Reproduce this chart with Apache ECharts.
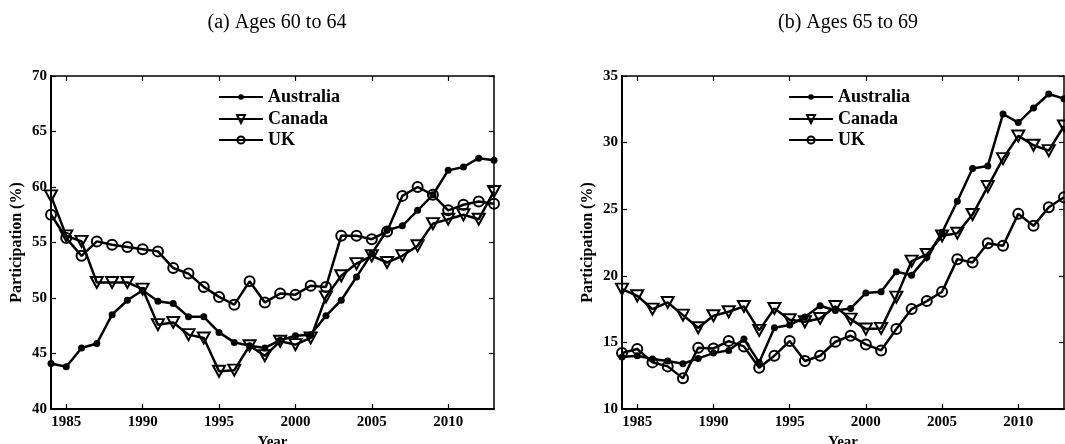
<!DOCTYPE html>
<html>
<head>
<meta charset="utf-8">
<script src="https://cdn.jsdelivr.net/npm/echarts@6/dist/echarts.min.js"></script>
<style>
  html, body { margin: 0; padding: 0; background: #fff; }
  #chart { width: 1065px; height: 444px; }
</style>
</head>
<body>
<div id="chart"></div>
<script>
// Survey years shared by both panels
const years = ['1984','1985','1986','1987','1988','1989','1990','1991','1992','1993',
               '1994','1995','1996','1997','1998','1999','2000','2001','2002','2003',
               '2004','2005','2006','2007','2008','2009','2010','2011','2012','2013'];

// Panel (a): participation rate, ages 60 to 64 (%)
const aus6064 = [44.1,43.8,45.5,45.9,48.5,49.8,50.7,49.7,49.5,48.3,48.3,46.9,46.0,45.7,45.5,
                 46.2,46.6,46.7,48.4,49.8,51.9,54.0,56.1,56.5,57.9,59.3,61.5,61.8,62.6,62.4];
const can6064 = [59.2,55.6,55.1,51.4,51.4,51.4,50.8,47.6,47.8,46.7,46.4,43.4,43.5,45.7,44.8,
                 46.1,45.8,46.4,50.1,52.0,53.1,53.8,53.2,53.8,54.7,56.7,57.1,57.5,57.1,59.6];
const uk6064  = [57.5,55.4,53.8,55.1,54.8,54.6,54.4,54.2,52.7,52.2,51.0,50.1,49.4,51.5,49.6,
                 50.4,50.3,51.1,51.0,55.6,55.6,55.3,56.0,59.2,60.0,59.3,57.9,58.4,58.7,58.5];

// Panel (b): participation rate, ages 65 to 69 (%)
const aus6569 = [13.9,14.0,13.75,13.6,13.4,13.8,14.2,14.4,15.25,13.5,16.1,16.3,16.9,17.75,17.4,
                 17.55,18.7,18.8,20.3,20.05,21.4,23.25,25.6,28.05,28.25,32.15,31.5,32.6,33.65,33.3];
const can6569 = [19.0,18.5,17.5,18.0,17.05,16.1,17.0,17.3,17.7,15.9,17.55,16.7,16.55,16.8,17.7,
                 16.75,16.0,16.05,18.4,21.1,21.6,23.0,23.2,24.6,26.7,28.8,30.5,29.8,29.4,31.25];
const uk6569  = [14.2,14.5,13.5,13.2,12.3,14.6,14.55,15.1,14.7,13.1,14.0,15.1,13.6,14.0,15.05,
                 15.5,14.85,14.4,16.0,17.5,18.1,18.8,21.25,21.0,22.45,22.25,24.65,23.75,25.15,25.9];

const panelTitles = ['(a) Ages 60 to 64', '(b) Ages 65 to 69'];
const yRanges = [[40, 70], [10, 35]];
const seriesNames = ['Australia', 'Canada', 'UK'];

const FONT = '"Liberation Serif", "Times New Roman", serif';
// fixed plot boxes; labels may run to the canvas edge
const grids = [
  { left: 51, right: 571, top: 76, bottom: 35, outerBoundsMode: 'none', containLabel: false },
  { left: 622, right: 1, top: 76, bottom: 35, outerBoundsMode: 'none', containLabel: false }
];

const every5 = (i) => Number(years[i]) % 5 === 0;

// marker styles per country
const markerStyles = {
  Australia: { symbol: 'circle', symbolSize: 7, itemStyle: { color: '#000' }, legendH: 7 },
  Canada: { symbol: 'triangle', symbolRotate: 180, symbolSize: [12, 11],
            itemStyle: { color: 'rgba(0,0,0,0)', borderColor: '#000', borderWidth: 2 }, legendH: 10 },
  UK: { symbol: 'circle', symbolSize: 10,
        itemStyle: { color: 'rgba(0,0,0,0)', borderColor: '#000', borderWidth: 2 }, legendH: 9 }
};

const xAxes = [], yAxes = [], series = [], legends = [], titles = [];

[0, 1].forEach((p) => {
  const tickStyle = { show: true, inside: true, length: 5, interval: every5, lineStyle: { color: '#000', width: 1.2 } };
  xAxes.push({
    type: 'category', gridIndex: p, data: years, boundaryGap: false, position: 'bottom',
    axisLine: { show: true, onZero: false, lineStyle: { color: '#000', width: 2 } },
    axisTick: tickStyle,
    axisLabel: { interval: every5, margin: 6, color: '#000', fontFamily: FONT, fontWeight: 'bold', fontSize: 15 },
    splitLine: { show: false },
    name: 'Year', nameLocation: 'middle', nameGap: 23,
    nameTextStyle: { color: '#000', fontFamily: FONT, fontWeight: 'bold', fontSize: 15 }
  });
  xAxes.push({
    type: 'category', gridIndex: p, data: years, boundaryGap: false, position: 'top',
    axisLine: { show: true, onZero: false, lineStyle: { color: '#000', width: 1.5 } },
    axisTick: tickStyle, axisLabel: { show: false }, splitLine: { show: false }
  });
  const yTick = { show: true, inside: true, length: 5, lineStyle: { color: '#000', width: 1.2 } };
  yAxes.push({
    type: 'value', gridIndex: p, min: yRanges[p][0], max: yRanges[p][1], interval: 5, position: 'left',
    axisLine: { show: true, onZero: false, lineStyle: { color: '#000', width: 2 } },
    axisTick: yTick,
    axisLabel: { margin: 4, color: '#000', fontFamily: FONT, fontWeight: 'bold', fontSize: 15 },
    splitLine: { show: false },
    name: 'Participation (%)', nameLocation: 'middle', nameGap: 26, nameRotate: 90,
    nameTextStyle: { color: '#000', fontFamily: FONT, fontWeight: 'bold', fontSize: 16 }
  });
  yAxes.push({
    type: 'value', gridIndex: p, min: yRanges[p][0], max: yRanges[p][1], interval: 5, position: 'right',
    axisLine: { show: true, onZero: false, lineStyle: { color: '#000', width: 1.5 } },
    axisTick: yTick, axisLabel: { show: false }, splitLine: { show: false }
  });

  const values = p === 0 ? [aus6064, can6064, uk6064] : [aus6569, can6569, uk6569];
  seriesNames.forEach((name, k) => {
    const m = markerStyles[name];
    series.push({
      name, type: 'line', xAxisIndex: p * 2, yAxisIndex: p * 2, data: values[k],
      symbol: m.symbol, symbolSize: m.symbolSize, symbolRotate: m.symbolRotate || 0,
      showSymbol: true, showAllSymbol: true,
      lineStyle: { color: '#000', width: 2.5 },
      itemStyle: m.itemStyle,
      emphasis: { disabled: true }, animation: false
    });
  });

  const legendLeft = p === 0 ? 218 : 788;
  const centers = [97, 119, 140];
  seriesNames.forEach((name, k) => {
    legends.push({
      data: [name], left: legendLeft, top: centers[k] - 9, padding: 0,
      itemWidth: 44, itemHeight: markerStyles[name].legendH, itemGap: 0,
      selectedMode: false,
      textStyle: { color: '#000', fontFamily: FONT, fontWeight: 'bold', fontSize: 18, lineHeight: 18 }
    });
  });

  titles.push({
    text: panelTitles[p], left: p === 0 ? 272 : 843, top: 8, textAlign: 'center',
    textStyle: { color: '#000', fontFamily: FONT, fontWeight: 'normal', fontSize: 20 }
  });
});

const chart = echarts.init(document.getElementById('chart'), null, { renderer: 'canvas' });
chart.setOption({
  backgroundColor: '#fff',
  animation: false,
  title: titles,
  legend: legends,
  grid: grids,
  xAxis: xAxes,
  yAxis: yAxes,
  series: series
});
</script>
</body>
</html>
